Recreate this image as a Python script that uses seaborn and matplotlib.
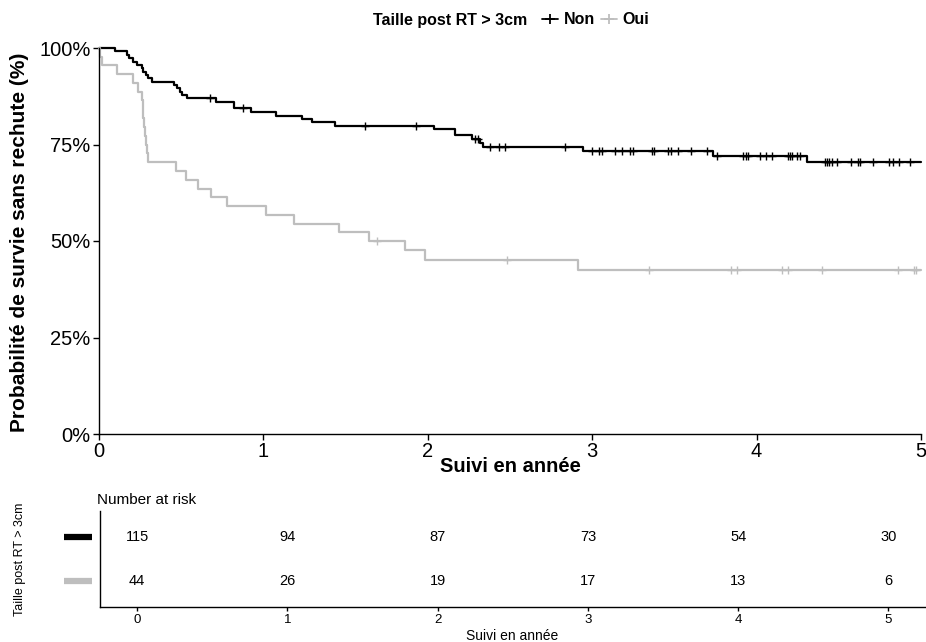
import numpy as np
import pandas as pd
import matplotlib
matplotlib.use("Agg")
import matplotlib.pyplot as plt
from matplotlib.lines import Line2D
from matplotlib.transforms import blended_transform_factory
import seaborn as sns

# ---------------- data ----------------
groups = ["Non", "Oui"]
colors = {"Non": "#000000", "Oui": "#BEBEBE"}

non_time = [0.097, 0.172, 0.184, 0.209, 0.229, 0.26, 0.27, 0.284, 0.30, 0.324,
            0.458, 0.472, 0.493, 0.507, 0.533, 0.712, 0.823, 0.925, 1.075, 1.237,
            1.293, 1.435, 2.04, 2.165, 2.267, 2.317, 2.336, 2.946, 3.737, 4.308]
non_surv = [99.1, 98.3, 97.4, 96.5, 95.7, 94.8, 93.9, 93.0, 92.2, 91.3,
            90.4, 89.6, 88.7, 87.8, 87.0, 86.1, 84.4, 83.4, 82.5, 81.6,
            80.7, 79.8, 78.9, 77.4, 76.3, 75.5, 74.4, 73.3, 72.1, 70.5]
non_cens = [0.675, 0.878, 1.618, 1.926, 2.287, 2.305, 2.378, 2.433, 2.470, 2.835,
            2.997, 3.041, 3.058, 3.139, 3.179, 3.230, 3.250, 3.366, 3.376, 3.463,
            3.478, 3.520, 3.601, 3.700, 3.757, 3.919, 3.934, 3.950, 4.021, 4.055,
            4.096, 4.193, 4.203, 4.214, 4.244, 4.264, 4.416, 4.426, 4.442, 4.460,
            4.487, 4.572, 4.619, 4.629, 4.710, 4.805, 4.828, 4.866, 4.933]

oui_time = [0.005, 0.016, 0.11, 0.205, 0.235, 0.26, 0.265, 0.27, 0.275, 0.28,
            0.287, 0.293, 0.30, 0.468, 0.527, 0.60, 0.681, 0.78, 1.016, 1.186,
            1.462, 1.644, 1.861, 1.983, 2.912]
oui_surv = [97.7, 95.5, 93.2, 90.9, 88.6, 86.4, 84.1, 81.8, 79.5, 77.3,
            75.0, 72.7, 70.5, 68.2, 65.9, 63.6, 61.4, 59.1, 56.8, 54.5,
            52.3, 50.0, 47.6, 45.2, 42.5]
oui_cens = [1.689, 2.484, 3.347, 3.844, 3.883, 4.152, 4.193, 4.40, 4.858, 4.959, 4.968]

risk_times = [0, 1, 2, 3, 4, 5]
non_risk = [115, 94, 87, 73, 54, 30]
oui_risk = [44, 26, 19, 17, 13, 6]

y_ticks = [0, 25, 50, 75, 100]
y_ticklabels = ["0%", "25%", "50%", "75%", "100%"]
x_ticks = [0, 1, 2, 3, 4, 5]

# ---------------- style ----------------
sns.set_style("ticks")
plt.rcParams["font.family"] = ["Liberation Sans", "DejaVu Sans"]
plt.rcParams["axes.linewidth"] = 1.0
for k in ["text.color", "axes.labelcolor", "xtick.color", "ytick.color",
          "axes.edgecolor"]:
    plt.rcParams[k] = "black"

W, H = 926, 642
fig = plt.figure(figsize=(W / 100, H / 100), dpi=100)

def fx(px):
    return px / W

def fy(py):
    return 1 - py / H

ax = fig.add_axes([fx(99), fy(434), (921 - 99) / W, (434 - 48) / H])

series = {"Non": (non_time, non_surv, non_cens, non_risk),
          "Oui": (oui_time, oui_surv, oui_cens, oui_risk)}

rows = []
for g in groups:
    t, s, _, _ = series[g]
    tt = [0.0] + list(t) + [5.0]
    ss = [100.0] + list(s) + [s[-1]]
    rows.append(pd.DataFrame({"time": tt, "surv": ss, "group": g}))
df = pd.concat(rows, ignore_index=True)

sns.lineplot(data=df, x="time", y="surv", hue="group", palette=colors,
             drawstyle="steps-post", estimator=None, linewidth=1.6,
             legend=False, ax=ax, clip_on=False)

def surv_at(times, survs, x):
    idx = np.searchsorted(np.asarray(times), x, side="right") - 1
    return 100.0 if idx < 0 else survs[idx]

for g in groups:
    t, s, c, _ = series[g]
    cy = [surv_at(t, s, v) for v in c]
    ax.plot(c, cy, linestyle="none", marker="+", markersize=6, mew=1.0,
            color=colors[g], clip_on=False)

ax.set_xlim(0, 5)
ax.set_ylim(0, 100)
ax.set_xticks(x_ticks)
ax.set_yticks(y_ticks)
ax.set_yticklabels(y_ticklabels)
ax.tick_params(axis="both", labelsize=14.5, length=4, width=1.0, pad=2,
               colors="black", labelcolor="black")
ax.set_xlabel("")
ax.set_ylabel("")
sns.despine(ax=ax)

fig.text(fx(20), fy(242), "Probabilité de survie sans rechute (%)",
         rotation=90, ha="center", va="center", fontsize=15, fontweight="bold")
fig.text(fx(510), fy(466), "Suivi en année", ha="center", va="center",
         fontsize=14.5, fontweight="bold")

# legend on top
fig.text(fx(527), fy(20), "Taille post RT > 3cm", ha="right", va="center",
         fontsize=11.5, fontweight="bold")
handles = [Line2D([], [], color=colors[g], lw=1.3, marker="+", markersize=7, mew=1.3)
           for g in groups]
fig.legend(handles, groups, loc="center left", bbox_to_anchor=(fx(542), fy(20)),
           ncol=2, frameon=False, prop={"weight": "bold", "size": 11.5},
           handlelength=1.0, handletextpad=0.35, columnspacing=0.4,
           borderpad=0, borderaxespad=0)

# ---------------- risk table ----------------
axt = fig.add_axes([fx(99.5), fy(607), (926 - 99.5) / W, (607 - 511) / H])
row_y = {"Non": 2, "Oui": 1}
for g in groups:
    r = series[g][3]
    for tx, n in zip(risk_times, r):
        axt.text(tx, row_y[g], str(n), ha="center", va="center", fontsize=10.5)
axt.set_xlim(-0.25, 5.25)
axt.set_ylim(0.4, 2.6)
axt.set_xticks(x_ticks)
axt.set_yticks([])
axt.tick_params(axis="x", labelsize=9.5, length=3, width=1.0, pad=2)
sns.despine(ax=axt)
trans = blended_transform_factory(fig.transFigure, axt.transData)
for g in groups:
    axt.plot([fx(64), fx(92)], [row_y[g], row_y[g]], transform=trans,
             color=colors[g], lw=4.5, solid_capstyle="butt", clip_on=False)

fig.text(fx(97), fy(500), "Number at risk", ha="left", va="center", fontsize=11)
fig.text(fx(20), fy(559), "Taille post RT > 3cm", rotation=90, ha="center",
         va="center", fontsize=9)
fig.text(fx(512), fy(636), "Suivi en année", ha="center", va="center", fontsize=10)

fig.savefig("out.png", dpi=100)
